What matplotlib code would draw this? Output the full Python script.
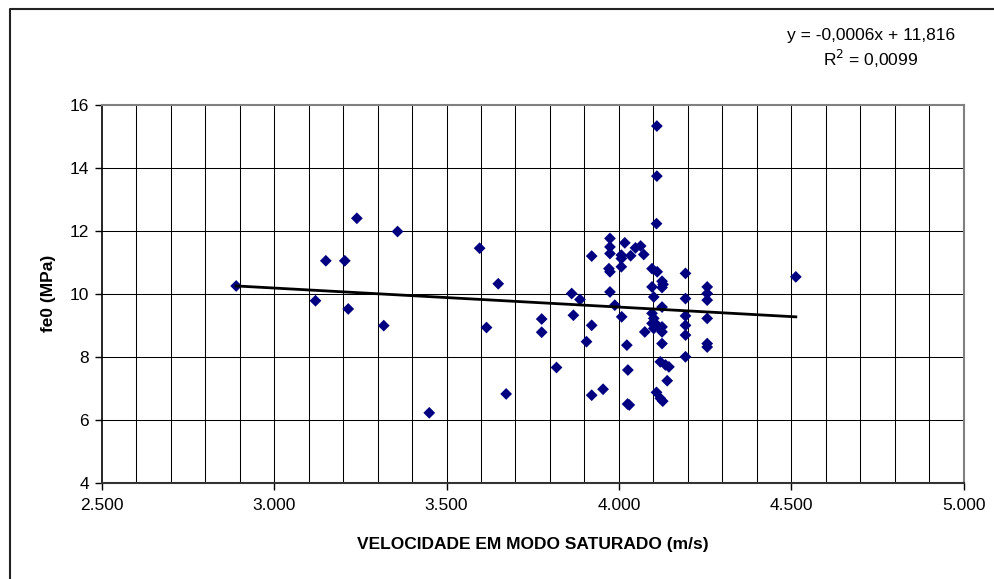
import numpy as np
import matplotlib
matplotlib.use("Agg")
import matplotlib.pyplot as plt
from matplotlib.lines import Line2D

plt.rcParams['font.family'] = ['Liberation Sans', 'DejaVu Sans']

# velocity (m/s) vs fe0 (MPa)
velocidade = [2890, 3120, 3150, 3205, 3215, 3240, 3318, 3358, 3450, 3596,
              3616, 3650, 3673, 3776, 3776,
              3819, 3863, 3868, 3887, 3906, 3921, 3921, 3921, 3954,
              3971, 3974, 3974, 3974, 3974, 3974, 3988,
              4007, 4007, 4007, 4008, 4017, 4023, 4026, 4025, 4030,
              4034, 4048, 4063, 4072, 4075,
              4096, 4111, 4096, 4101, 4096, 4101, 4096, 4111, 4101,
              4110, 4110, 4109, 4109, 4120, 4127,
              4125, 4128, 4125, 4125, 4125, 4125, 4125, 4120, 4135, 4145, 4140,
              4193, 4193, 4193, 4193, 4193, 4193,
              4256, 4256, 4256, 4256, 4256, 4256,
              4513]
fe0 = [10.25, 9.78, 11.05, 11.05, 9.52, 12.40, 8.99, 11.98, 6.22, 11.45,
       8.93, 10.32, 6.82, 9.20, 8.78,
       7.66, 10.01, 9.32, 9.82, 8.48, 11.20, 9.00, 6.78, 6.97,
       10.80, 10.70, 11.76, 11.49, 11.28, 10.06, 9.64,
       11.23, 11.12, 10.86, 9.27, 11.62, 8.37, 7.58, 6.50, 6.47,
       11.21, 11.46, 11.52, 11.25, 8.79,
       10.80, 10.70, 10.22, 9.90, 9.38, 9.22, 9.06, 9.00, 8.90,
       15.33, 13.74, 12.23, 6.87, 6.68, 6.59,
       10.40, 10.30, 10.20, 9.58, 8.95, 8.79, 8.42, 7.84, 7.74, 7.68, 7.24,
       10.65, 9.85, 9.30, 9.00, 8.69, 8.00,
       10.22, 10.01, 9.80, 9.22, 8.42, 8.31,
       10.54]

x_ticks = [2500, 3000, 3500, 4000, 4500, 5000]
x_labels = ['2.500', '3.000', '3.500', '4.000', '4.500', '5.000']
y_ticks = [4, 6, 8, 10, 12, 14, 16]

equacao = 'y = -0,0006x + 11,816'
r2_texto = 'R$^2$ = 0,0099'

fig = plt.figure(figsize=(9.95, 5.79), dpi=100)
ax = fig.add_axes([0.1022, 0.1663, 0.8664, 0.6524])

# grid: every 100 on x, every 2 on y
for xv in np.arange(2600, 5000, 100):
    ax.axvline(xv, color='black', lw=0.75, zorder=1)
for yv in y_ticks[1:-1]:
    ax.axhline(yv, color='black', lw=0.75, zorder=1)

x = np.array(velocidade)
y = np.array(fe0)
ax.scatter(x, y, marker='D', s=36, color='#000080', edgecolors='none', zorder=3)

# linear trend line over the data range
a, b = np.polyfit(x, y, 1)
xl = np.array([x.min(), x.max()])
ax.plot(xl, a * xl + b, color='black', lw=2, zorder=4)

ax.set_xlim(2500, 5000)
ax.set_ylim(4, 16)
ax.set_xticks(x_ticks)
ax.set_xticklabels(x_labels)
ax.set_yticks(y_ticks)
ax.tick_params(axis='both', direction='out', length=5, width=1, labelsize=12.5,
               color='black', pad=4)
ax.tick_params(axis='x', pad=6)

for s in ['top', 'right']:
    ax.spines[s].set_color('#808080')
    ax.spines[s].set_linewidth(1.5)
ax.spines['left'].set_color('black')
ax.spines['bottom'].set_color('#333333')
ax.spines['left'].set_linewidth(1.2)
ax.spines['bottom'].set_linewidth(1.5)

ax.set_xlabel('VELOCIDADE EM MODO SATURADO (m/s)', fontsize=12.5,
              fontweight='bold', labelpad=17)
ax.set_ylabel('fe0 (MPa)', fontsize=12.5, fontweight='bold', labelpad=10)

fig.text(0.875, 0.938, equacao, ha='center', va='center', fontsize=12.5)
fig.text(0.875, 0.899, r2_texto, ha='center', va='center', fontsize=12.5)

# outer chart frame (only left and top edges visible)
fig.add_artist(Line2D([0.0096, 0.0096, 1.0], [0.0, 0.9836, 0.9836],
                      transform=fig.transFigure, color='#222222', lw=1.5))

fig.savefig('out.png', dpi=100)
